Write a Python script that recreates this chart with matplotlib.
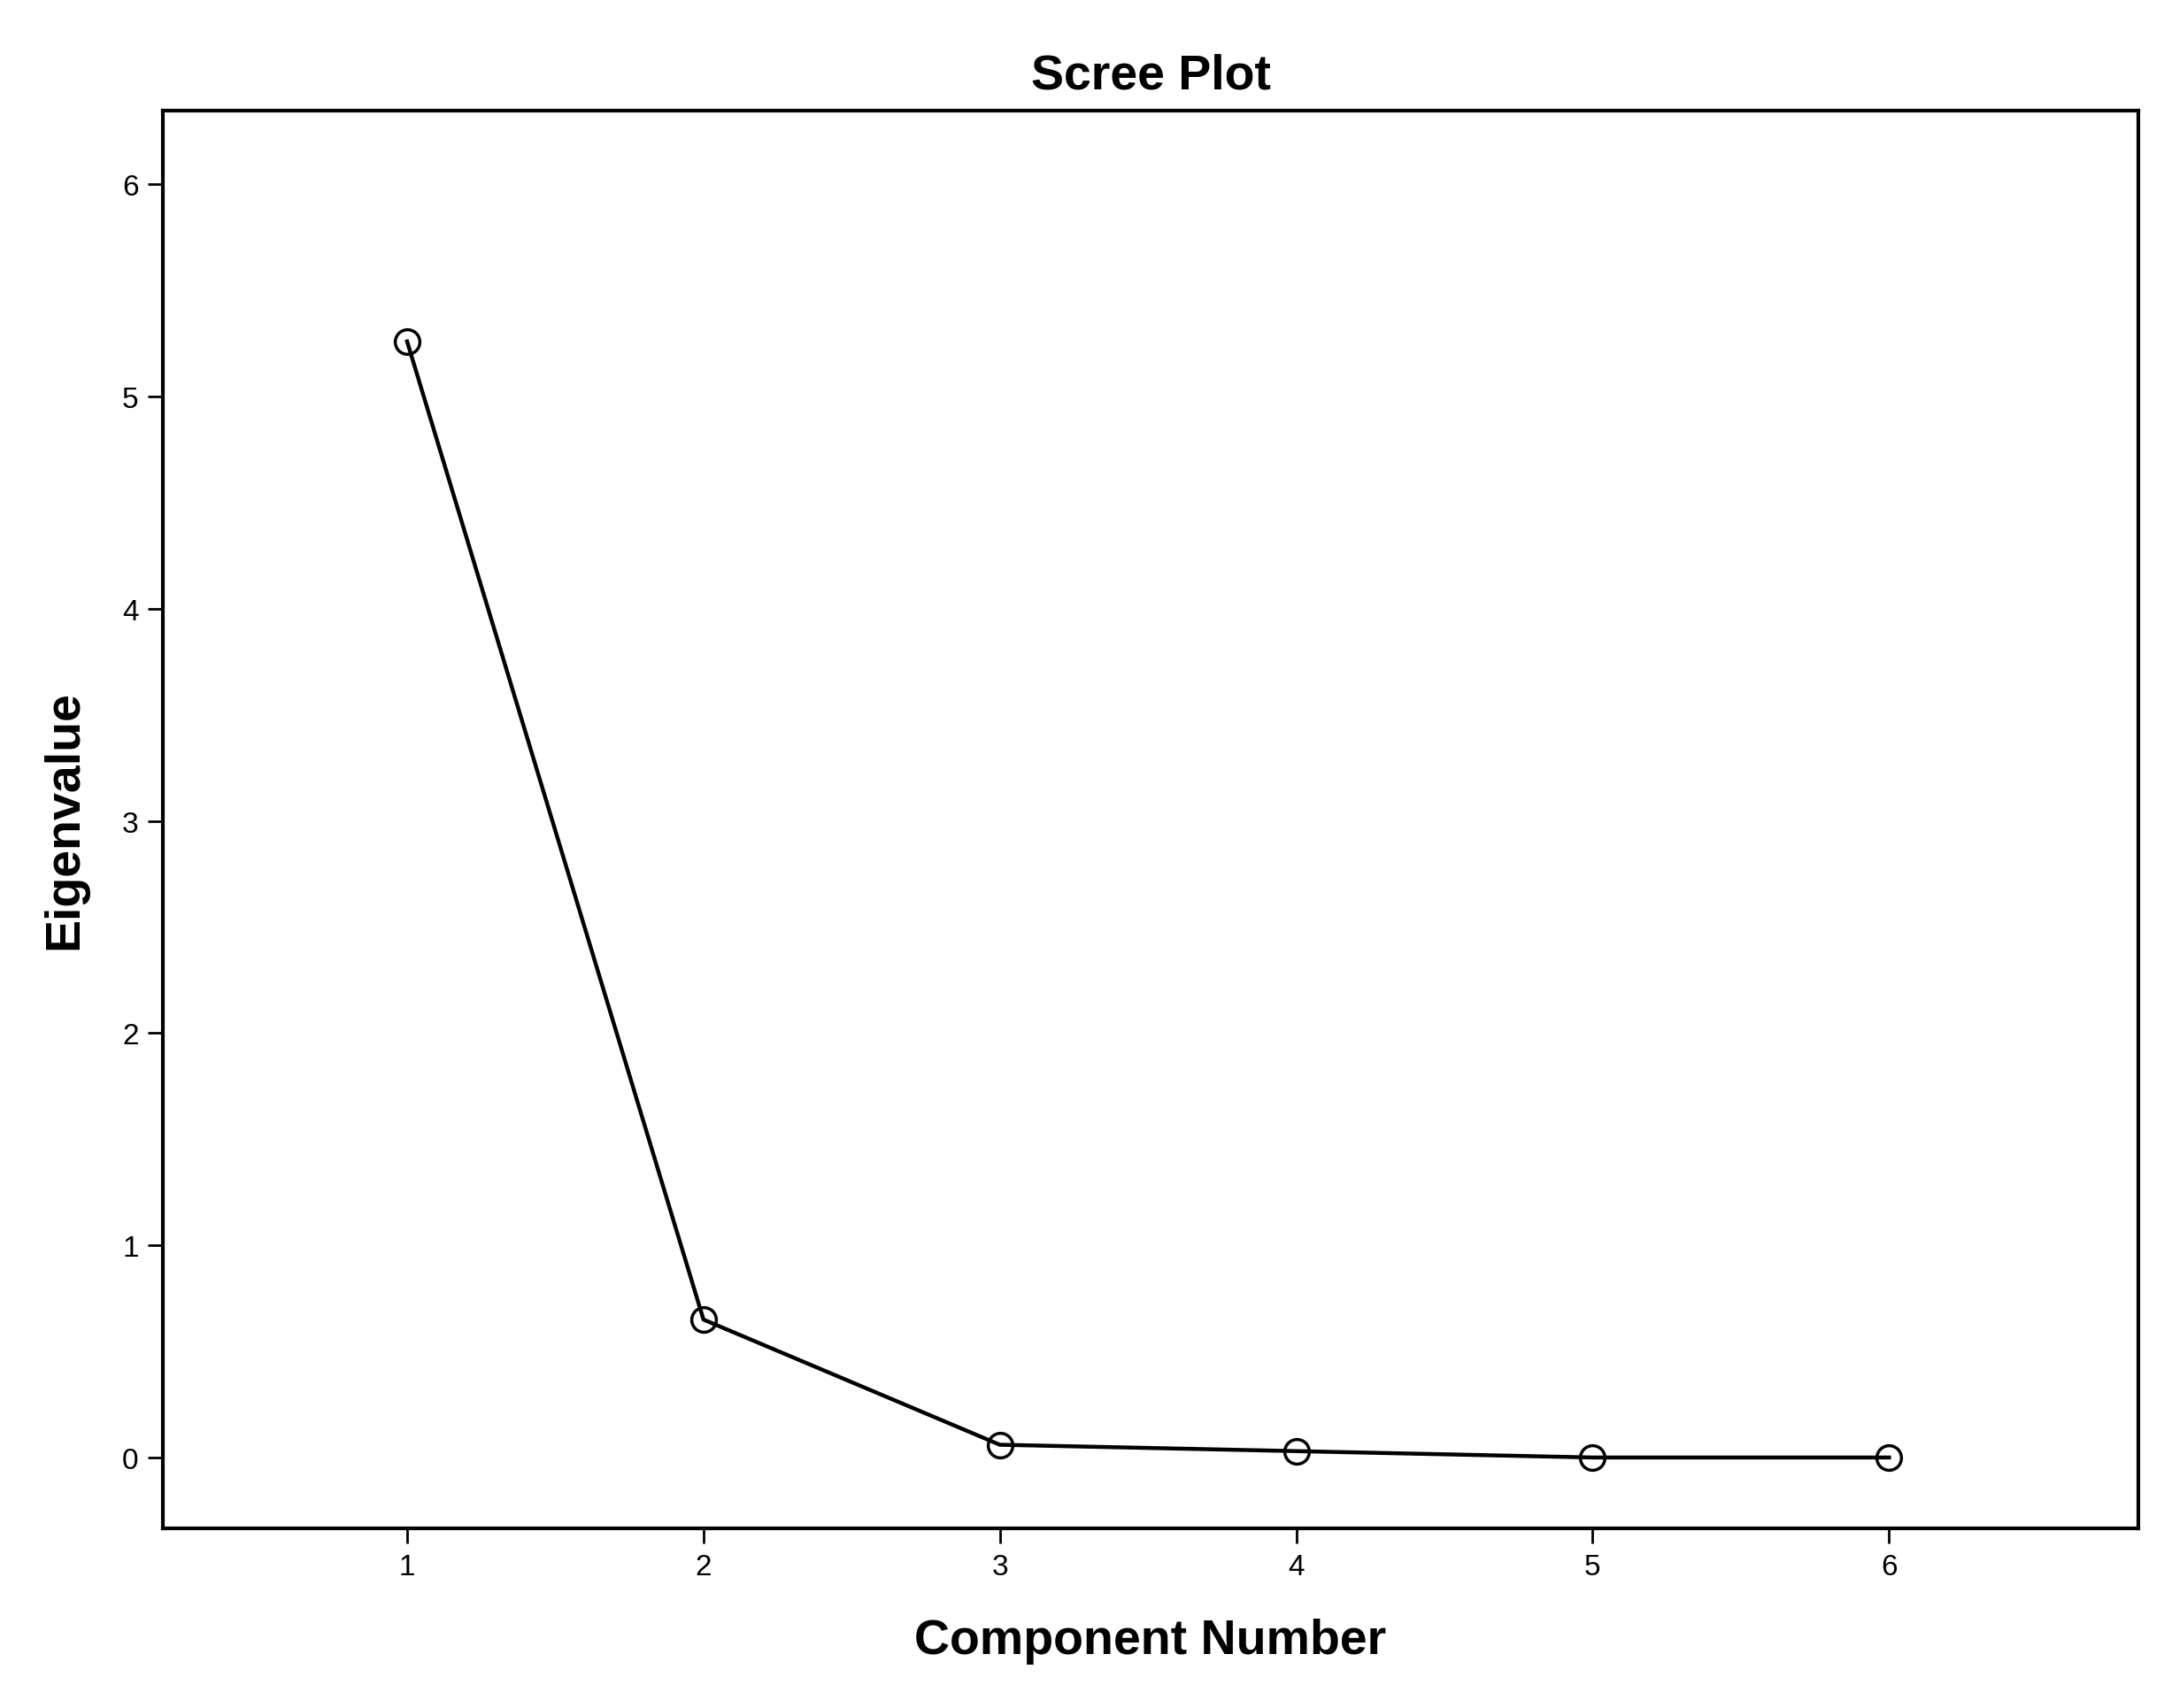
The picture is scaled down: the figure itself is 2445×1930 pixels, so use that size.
import matplotlib
matplotlib.use("Agg")
import matplotlib.pyplot as plt

components = [1, 2, 3, 4, 5, 6]
eigenvalues = [5.26, 0.65, 0.06, 0.03, 0.0, 0.0]

plt.rcParams['font.family'] = ['Liberation Sans', 'DejaVu Sans']
fig = plt.figure(figsize=(24.45, 19.31), dpi=100)
ax = fig.add_axes([0.0754, 0.105, 0.9126, 0.83])
ax.plot(components, eigenvalues, color='black', lw=3.2, marker='o', ms=20,
        mfc='none', mec='black', mew=2.5)
ax.set_xlim(0.177, 6.84)
ax.set_ylim(-0.335, 6.35)
ax.set_xticks(components)
ax.set_yticks([0, 1, 2, 3, 4, 5, 6])
ax.tick_params(labelsize=24, length=12, width=2, direction='out', pad=8)
for s in ax.spines.values():
    s.set_linewidth(3)
ax.set_title('Scree Plot', fontsize=40, fontweight='bold', pad=18)
ax.set_xlabel('Component Number', fontsize=40, fontweight='bold', labelpad=30)
ax.set_ylabel('Eigenvalue', fontsize=40, fontweight='bold', labelpad=28)
fig.savefig('out.png', dpi=100)
